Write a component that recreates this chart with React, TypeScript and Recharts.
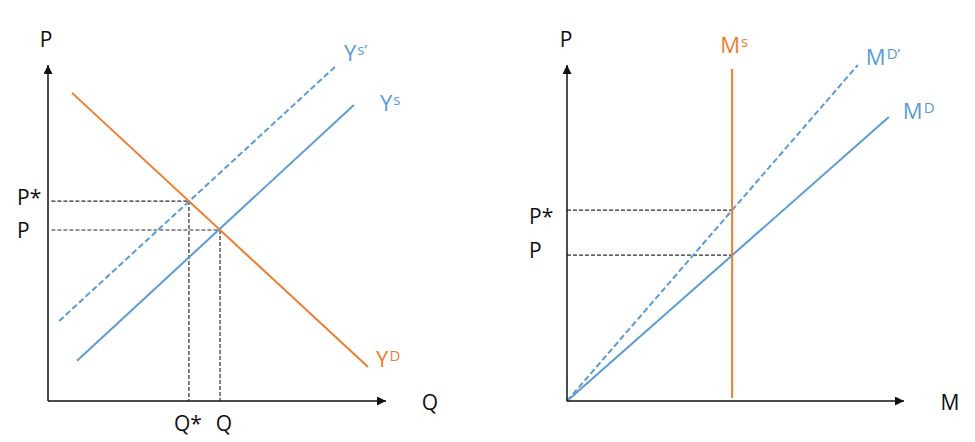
import { Line, LineChart, ReferenceLine, XAxis, YAxis } from "recharts";

const BLUE = "#5B9BD5";
const ORANGE = "#ED7D31";
const INK = "#111";
const GUIDE = "#2b2b2b";
const FONT = "'Open Sans', Lato, sans-serif";

// goods market (left panel), coordinates in axis units 0..10
const ysShifted = [
  { q: 0.33, p: 2.38 },
  { q: 8.55, p: 10 },
];
const ysCurve = [
  { q: 0.86, p: 1.2 },
  { q: 9.05, p: 8.81 },
];
const ydCurve = [
  { q: 0.71, p: 9.17 },
  { q: 9.47, p: 1.01 },
];
const goodsPriceTicks = [5.95, 5.09];
const goodsPriceLabels = ["P*", "P"];
const goodsQtyTicks = [4.17, 5.09];
const goodsQtyLabels = ["Q*", "Q"];

// money market (right panel)
const msCurve = [
  { m: 4.9, p: 0.09 },
  { m: 4.9, p: 9.88 },
];
const mdShifted = [
  { m: 0, p: 0 },
  { m: 8.63, p: 10 },
];
const mdCurve = [
  { m: 0, p: 0 },
  { m: 9.55, p: 8.45 },
];
const moneyPriceTicks = [5.68, 4.34];
const moneyPriceLabels = ["P*", "P"];
const moneyQty = 4.9;

// per-label nudges, the original is hand placed
const goodsPriceDy = [4, 8];
const moneyPriceDy = [14, 3];
const goodsQtyDx = [-1, 4];

function PriceTick(props: any) {
  const { y, payload, ticks, labels, left, nudges } = props;
  const i = ticks.indexOf(payload.value);
  return (
    <text x={left} y={y + nudges[i]} fill={INK} fontSize={21} fontFamily={FONT} textAnchor="start">
      {labels[i]}
    </text>
  );
}

function QtyTick(props: any) {
  const { x, payload } = props;
  const i = goodsQtyTicks.indexOf(payload.value);
  return (
    <text x={x + goodsQtyDx[i]} y={431} fill={INK} fontSize={21} fontFamily={FONT} textAnchor="middle">
      {goodsQtyLabels[i]}
    </text>
  );
}

function curveLabel(data: any[], main: string, sup: string, color: string, dx: number, dy: number) {
  return (props: any) => {
    if (props.index !== data.length - 1) return <g key={props.index} />;
    return (
      <text key={props.index} x={props.x + dx} y={props.y + dy} fill={color} fontSize={22} fontFamily={FONT}>
        <tspan>{main}</tspan>
        <tspan fontSize={15} dy={-6} dx={1}>
          {sup}
        </tspan>
      </text>
    );
  };
}

const axisLine = {
  stroke: INK,
  strokeWidth: 1.5,
  markerEnd: "url(#arrowHead)",
  markerStart: "url(#arrowHead)",
};

function AxisTitle({ x, y, text }: { x: number; y: number; text: string }) {
  return (
    <text x={x} y={y} fill={INK} fontSize={21} fontFamily={FONT} textAnchor="middle">
      {text}
    </text>
  );
}

const guide = { stroke: GUIDE, strokeDasharray: "4 2", strokeWidth: 1.2 };

function GoodsMarket() {
  return (
    <LineChart width={487} height={442} margin={{ top: 65, right: 101, bottom: 0, left: 8 }}>
      <XAxis
        type="number"
        dataKey="q"
        domain={[0, 10]}
        ticks={goodsQtyTicks}
        interval={0}
        tick={<QtyTick />}
        tickLine={false}
        height={41}
        axisLine={{ ...axisLine, markerStart: undefined }}
        label={{ content: () => <AxisTitle x={430} y={410} text="Q" /> }}
      />
      <YAxis
        type="number"
        dataKey="p"
        domain={[0, 10]}
        ticks={goodsPriceTicks}
        interval={0}
        tick={<PriceTick ticks={goodsPriceTicks} labels={goodsPriceLabels} left={17} nudges={goodsPriceDy} />}
        tickLine={false}
        width={40}
        axisLine={{ ...axisLine, markerEnd: undefined }}
        label={{ content: () => <AxisTitle x={46} y={47} text="P" /> }}
      />
      <ReferenceLine
        segment={[
          { x: 0.1, y: goodsPriceTicks[0] },
          { x: goodsQtyTicks[0], y: goodsPriceTicks[0] },
        ]}
        {...guide}
      />
      <ReferenceLine
        segment={[
          { x: goodsQtyTicks[0], y: goodsPriceTicks[0] },
          { x: goodsQtyTicks[0], y: 0 },
        ]}
        {...guide}
      />
      <ReferenceLine
        segment={[
          { x: 0.1, y: goodsPriceTicks[1] },
          { x: goodsQtyTicks[1], y: goodsPriceTicks[1] },
        ]}
        {...guide}
      />
      <ReferenceLine
        segment={[
          { x: goodsQtyTicks[1], y: goodsPriceTicks[1] },
          { x: goodsQtyTicks[1], y: 0 },
        ]}
        {...guide}
      />
      <Line
        data={ysShifted}
        dataKey="p"
        stroke={BLUE}
        strokeWidth={2}
        strokeDasharray="6 3"
        dot={false}
        activeDot={false}
        isAnimationActive={false}
        label={curveLabel(ysShifted, "Y", "s’", BLUE, 7, -4)}
      />
      <Line
        data={ysCurve}
        dataKey="p"
        stroke={BLUE}
        strokeWidth={2}
        dot={false}
        activeDot={false}
        isAnimationActive={false}
        label={curveLabel(ysCurve, "Y", "s", BLUE, 26, 6)}
      />
      <Line
        data={ydCurve}
        dataKey="p"
        stroke={ORANGE}
        strokeWidth={2}
        dot={false}
        activeDot={false}
        isAnimationActive={false}
        label={curveLabel(ydCurve, "Y", "D", ORANGE, 8, 0)}
      />
    </LineChart>
  );
}

function MoneyMarket() {
  return (
    <LineChart width={488} height={442} margin={{ top: 65, right: 71, bottom: 0, left: 40 }}>
      <XAxis
        type="number"
        dataKey="m"
        domain={[0, 10]}
        ticks={[]}
        tickLine={false}
        height={41}
        axisLine={{ ...axisLine, markerStart: undefined }}
        label={{ content: () => <AxisTitle x={463} y={410} text="M" /> }}
      />
      <YAxis
        type="number"
        dataKey="p"
        domain={[0, 10]}
        ticks={moneyPriceTicks}
        interval={0}
        tick={<PriceTick ticks={moneyPriceTicks} labels={moneyPriceLabels} left={42} nudges={moneyPriceDy} />}
        tickLine={false}
        width={40}
        axisLine={{ ...axisLine, markerEnd: undefined }}
        label={{ content: () => <AxisTitle x={79} y={47} text="P" /> }}
      />
      <ReferenceLine
        segment={[
          { x: 0, y: moneyPriceTicks[0] },
          { x: moneyQty, y: moneyPriceTicks[0] },
        ]}
        {...guide}
      />
      <ReferenceLine
        segment={[
          { x: 0, y: moneyPriceTicks[1] },
          { x: moneyQty, y: moneyPriceTicks[1] },
        ]}
        {...guide}
      />
      <Line
        data={mdShifted}
        dataKey="p"
        stroke={BLUE}
        strokeWidth={2}
        strokeDasharray="6 3"
        dot={false}
        activeDot={false}
        isAnimationActive={false}
        label={curveLabel(mdShifted, "M", "D’", BLUE, 8, 0)}
      />
      <Line
        data={mdCurve}
        dataKey="p"
        stroke={BLUE}
        strokeWidth={2}
        dot={false}
        activeDot={false}
        isAnimationActive={false}
        label={curveLabel(mdCurve, "M", "D", BLUE, 14, 2)}
      />
      <Line
        data={msCurve}
        dataKey="p"
        stroke={ORANGE}
        strokeWidth={2}
        dot={false}
        activeDot={false}
        isAnimationActive={false}
        label={curveLabel(msCurve, "M", "s", ORANGE, -12, -16)}
      />
    </LineChart>
  );
}

export default function App() {
  return (
    <div
      style={{
        position: "absolute",
        left: 0,
        top: 0,
        width: 975,
        height: 442,
        background: "#fff",
        display: "flex",
      }}
    >
      <svg width={0} height={0} style={{ position: "absolute" }}>
        <defs>
          <marker
            id="arrowHead"
            viewBox="0 0 10 10"
            refX={10}
            refY={5}
            markerWidth={9}
            markerHeight={9}
            markerUnits="userSpaceOnUse"
            orient="auto-start-reverse"
          >
            <path d="M0,0 L10,5 L0,10 z" fill={INK} />
          </marker>
        </defs>
      </svg>
      <GoodsMarket />
      <MoneyMarket />
    </div>
  );
}
